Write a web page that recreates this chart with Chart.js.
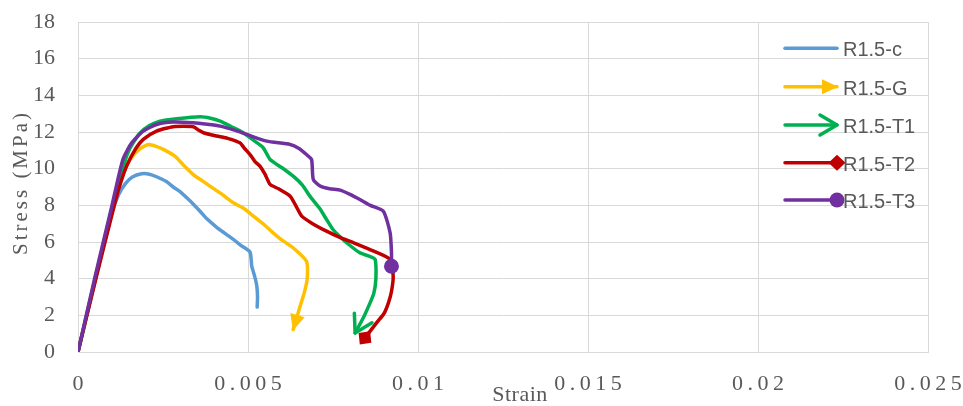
<!DOCTYPE html>
<html>
<head>
<meta charset="utf-8">
<script src="https://cdn.jsdelivr.net/npm/chart.js@4.4.1/dist/chart.umd.min.js"></script>
<style>
  html, body { margin: 0; padding: 0; background: #ffffff; }
  canvas { display: block; }
</style>
</head>
<body>
<canvas id="chart" width="963" height="406"></canvas>
<script>
// Stress-strain curves of the R1.5 specimen series
const seriesNames = ['R1.5-c', 'R1.5-G', 'R1.5-T1', 'R1.5-T2', 'R1.5-T3'];

const strainC = [0, 0.0005, 0.0010, 0.0012, 0.0014, 0.0016, 0.00187, 0.0021, 0.00231, 0.0026, 0.0028, 0.0030, 0.0032, 0.0034, 0.00359, 0.0038, 0.00408, 0.0043, 0.00457, 0.0048, 0.00506, 0.00511, 0.0052, 0.00526, 0.00528, 0.00527];
const stressC = [0, 3.9, 7.6, 8.6, 9.2, 9.55, 9.72, 9.7, 9.56, 9.3, 9.0, 8.75, 8.41, 8.05, 7.68, 7.25, 6.8, 6.5, 6.14, 5.8, 5.45, 4.68, 4.1, 3.59, 3.0, 2.45];

const strainG = [0, 0.0005, 0.0010, 0.0013, 0.00153, 0.0018, 0.00207, 0.0023, 0.00251, 0.00285, 0.0031, 0.00339, 0.00365, 0.00388, 0.0042, 0.00457, 0.0049, 0.00516, 0.0055, 0.00574, 0.0060, 0.00633, 0.00672, 0.00674, 0.00665, 0.00655, 0.00633];
const stressG = [0, 4.0, 7.8, 9.6, 10.5, 11.05, 11.32, 11.22, 11.05, 10.68, 10.2, 9.68, 9.35, 9.05, 8.65, 8.14, 7.8, 7.41, 6.9, 6.5, 6.1, 5.68, 4.95, 3.96, 3.2, 2.6, 1.23];

const strainT1 = [0, 0.0005, 0.0010, 0.0013, 0.0015, 0.0018, 0.0021, 0.00241, 0.0029, 0.00359, 0.0039, 0.00418, 0.0045, 0.00486, 0.0052, 0.00545, 0.00565, 0.0060, 0.00633, 0.0066, 0.00682, 0.0071, 0.00731, 0.0075, 0.0077, 0.0079, 0.00829, 0.0086, 0.00874, 0.00876, 0.0087, 0.00859, 0.0084, 0.00815];
const stressT1 = [0, 3.9, 7.7, 9.9, 11.0, 11.9, 12.35, 12.59, 12.72, 12.83, 12.75, 12.59, 12.3, 11.96, 11.5, 11.14, 10.5, 10.05, 9.59, 9.1, 8.5, 7.85, 7.23, 6.68, 6.3, 5.96, 5.41, 5.2, 5.05, 3.96, 3.2, 2.68, 1.9, 1.04];

const strainT2 = [0, 0.0005, 0.0010, 0.0012, 0.00143, 0.0017, 0.00192, 0.00231, 0.0028, 0.00339, 0.00355, 0.00369, 0.00408, 0.0044, 0.00476, 0.0049, 0.00506, 0.0052, 0.00535, 0.0055, 0.00565, 0.0059, 0.00624, 0.0064, 0.00658, 0.0069, 0.00731, 0.0077, 0.0081, 0.0087, 0.00918, 0.00927, 0.00922, 0.00913, 0.0090, 0.00878, 0.00844];
const stressT2 = [0, 3.8, 7.5, 8.9, 10.14, 11.1, 11.6, 12.05, 12.29, 12.29, 12.1, 11.96, 11.78, 11.65, 11.41, 11.1, 10.77, 10.4, 10.14, 9.7, 9.14, 8.9, 8.5, 8.0, 7.41, 7.0, 6.59, 6.25, 5.96, 5.5, 5.05, 4.14, 3.3, 2.68, 2.1, 1.59, 0.77];

const strainT3 = [0, 0.0005, 0.0010, 0.00132, 0.00158, 0.00192, 0.00231, 0.0028, 0.00339, 0.0038, 0.00418, 0.0046, 0.00496, 0.00555, 0.00624, 0.0065, 0.00672, 0.00687, 0.00692, 0.00712, 0.0074, 0.00771, 0.0080, 0.00829, 0.0086, 0.00898, 0.00918, 0.00922, 0.00922];
const stressT3 = [0, 4.1, 8.0, 10.5, 11.41, 12.05, 12.41, 12.54, 12.5, 12.42, 12.32, 12.1, 11.87, 11.5, 11.32, 11.1, 10.77, 10.5, 9.41, 9.05, 8.9, 8.83, 8.6, 8.32, 8.0, 7.68, 6.5, 5.41, 4.68];

const xTickLabels = ['0', '0.005', '0.01', '0.015', '0.02', '0.025'];
const yTickLabels = ['0', '2', '4', '6', '8', '10', '12', '14', '16', '18'];

const strainSets = [strainC, strainG, strainT1, strainT2, strainT3];
const stressSets = [stressC, stressG, stressT1, stressT2, stressT3];
const lineColors = ['#5B9BD5', '#FFC000', '#00B050', '#C00000', '#7030A0'];
const endMarks = ['none', 'triangle', 'open', 'diamond', 'circle'];

const GRID = '#d9d9d9';
const TEXT = '#595959';
const LINE_W = 3.5;

// Tick label styling per axis: extra letter spacing and a fixed offset from the axis line
const labelStyle = {
  x: { spacing: 4.5, dx: 2.25, dy: 19 },
  y: { spacing: 0, dx: -23, dy: 0 }
};

// Linear scale whose tick labels are drawn with letter spacing and an offset
class SpacedLinearScale extends Chart.LinearScale {
  drawLabels(chartArea) {
    const st = labelStyle[this.id] || { spacing: 0, dx: 0, dy: 0 };
    const ctx = this.ctx;
    ctx.save();
    ctx.letterSpacing = st.spacing + 'px';
    ctx.translate(st.dx, st.dy);
    super.drawLabels(chartArea);
    ctx.restore();
  }
}
SpacedLinearScale.id = 'spacedLinear';
SpacedLinearScale.defaults = Chart.LinearScale.defaults;
Chart.register(SpacedLinearScale);

function drawEndMark(ctx, kind, x, y, ang, color) {
  if (kind === 'none') return;
  ctx.save();
  ctx.translate(x, y);
  ctx.rotate(ang);
  ctx.fillStyle = color;
  ctx.strokeStyle = color;
  ctx.beginPath();
  if (kind === 'triangle') {
    ctx.moveTo(1, 0);
    ctx.lineTo(-15, -7.5);
    ctx.lineTo(-15, 7.5);
    ctx.closePath();
    ctx.fill();
  } else if (kind === 'open') {
    ctx.lineWidth = LINE_W;
    ctx.lineCap = 'round';
    ctx.lineJoin = 'round';
    ctx.moveTo(-17, -10);
    ctx.lineTo(0, 0);
    ctx.lineTo(-17, 10);
    ctx.stroke();
  } else if (kind === 'diamond') {
    ctx.moveTo(8.5, 0);
    ctx.lineTo(0, 8);
    ctx.lineTo(-8.5, 0);
    ctx.lineTo(0, -8);
    ctx.closePath();
    ctx.fill();
  } else if (kind === 'circle') {
    ctx.arc(0, 0, 7.5, 0, Math.PI * 2);
    ctx.fill();
  }
  ctx.restore();
}

// Line-end decorations (arrows, diamond, dot) placed on each curve's last point
const endMarkPlugin = {
  id: 'endMarks',
  afterDatasetsDraw(chart) {
    const ctx = chart.ctx;
    chart.data.datasets.forEach((ds, i) => {
      const pts = chart.getDatasetMeta(i).data;
      const n = pts.length;
      if (n < 2) return;
      const a = pts[n - 2], b = pts[n - 1];
      const ang = Math.atan2(b.y - a.y, b.x - a.x);
      drawEndMark(ctx, endMarks[i], b.x, b.y, ang, lineColors[i]);
    });
  }
};

// Legend block over the upper right of the plot, plus both axis titles
const annotationPlugin = {
  id: 'legendAndTitles',
  afterDraw(chart) {
    const ctx = chart.ctx;
    const x0 = 785, x1 = 837, tx = 843;
    const rows = [48.3, 86.7, 125, 162.7, 200];
    ctx.save();
    seriesNames.forEach((name, i) => {
      const y = rows[i];
      ctx.strokeStyle = lineColors[i];
      ctx.lineWidth = LINE_W;
      ctx.lineCap = 'round';
      ctx.beginPath();
      ctx.moveTo(x0, y);
      ctx.lineTo(x1, y);
      ctx.stroke();
      drawEndMark(ctx, endMarks[i], x1, y, 0, lineColors[i]);
      ctx.fillStyle = TEXT;
      ctx.font = '20px "Liberation Sans", Arial, sans-serif';
      ctx.textAlign = 'left';
      ctx.textBaseline = 'alphabetic';
      ctx.fillText(name, tx, y + 8);
    });

    ctx.fillStyle = TEXT;
    ctx.font = '22px "Liberation Serif", "Times New Roman", serif';
    ctx.textAlign = 'center';
    ctx.textBaseline = 'alphabetic';
    ctx.letterSpacing = '0.5px';
    ctx.fillText('Strain', 520, 401);

    ctx.translate(27, 184);
    ctx.rotate(-Math.PI / 2);
    ctx.font = '21px "Liberation Serif", "Times New Roman", serif';
    ctx.letterSpacing = '3px';
    ctx.fillText('Stress (MPa)', 1.5, 0);
    ctx.restore();
  }
};

const datasets = seriesNames.map((name, i) => ({
  label: name,
  data: strainSets[i].map((s, k) => ({ x: s, y: stressSets[i][k] })),
  borderColor: lineColors[i],
  backgroundColor: lineColors[i],
  borderWidth: LINE_W,
  borderCapStyle: 'round',
  borderJoinStyle: 'round',
  showLine: true,
  pointRadius: 0,
  pointHoverRadius: 0,
  tension: 0.2,
  fill: false,
  order: seriesNames.length - i
}));

new Chart(document.getElementById('chart'), {
  type: 'scatter',
  data: { datasets },
  options: {
    responsive: false,
    animation: false,
    devicePixelRatio: 1,
    layout: { padding: { left: 0, top: 22, right: 35, bottom: 0 } },
    plugins: {
      legend: { display: false },
      tooltip: { enabled: false },
      title: { display: false }
    },
    scales: {
      x: {
        type: 'spacedLinear',
        position: 'bottom',
        min: 0,
        max: 0.025,
        afterFit(scale) { scale.height = 54; },
        afterBuildTicks(scale) {
          scale.ticks = xTickLabels.map((t, k) => ({ value: k * 0.005 }));
        },
        ticks: {
          padding: 0,
          color: TEXT,
          font: { family: '"Liberation Serif", "Times New Roman", serif', size: 22 },
          maxRotation: 0,
          autoSkip: false,
          callback: (v, k) => xTickLabels[k]
        },
        grid: { color: GRID, lineWidth: 1, drawTicks: false },
        border: { color: GRID, width: 1 }
      },
      y: {
        type: 'spacedLinear',
        position: 'left',
        min: 0,
        max: 18,
        afterFit(scale) { scale.width = 78; },
        afterBuildTicks(scale) {
          scale.ticks = yTickLabels.map((t, k) => ({ value: k * 2 }));
        },
        ticks: {
          padding: 0,
          color: TEXT,
          font: { family: '"Liberation Serif", "Times New Roman", serif', size: 22 },
          autoSkip: false,
          callback: (v, k) => yTickLabels[k]
        },
        grid: { color: GRID, lineWidth: 1, drawTicks: false },
        border: { color: GRID, width: 1 }
      }
    }
  },
  plugins: [endMarkPlugin, annotationPlugin]
});
</script>
</body>
</html>
